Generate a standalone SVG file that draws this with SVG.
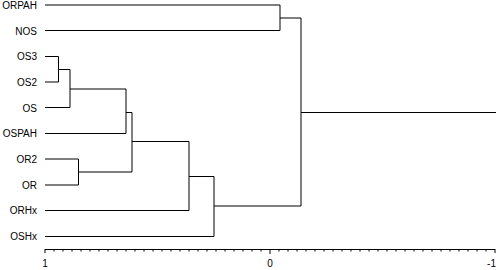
<svg xmlns="http://www.w3.org/2000/svg" width="500" height="270" viewBox="0 0 500 270">
<style>
.lbl{font-family:"Liberation Sans",Arial,sans-serif;font-size:10px;fill:#000;text-anchor:end}
.ax{font-family:"Liberation Sans",Arial,sans-serif;font-size:10px;fill:#000}
.ln{stroke:#000;stroke-width:1;fill:none}
</style>
<rect width="500" height="270" fill="#fff"/>
<g id="leaf-ORPAH"><text class="lbl" x="37" y="8.5">ORPAH</text></g>
<g id="leaf-NOS"><text class="lbl" x="37" y="34.5">NOS</text></g>
<g id="leaf-OS3"><text class="lbl" x="37" y="60">OS3</text></g>
<g id="leaf-OS2"><text class="lbl" x="37" y="85.5">OS2</text></g>
<g id="leaf-OS"><text class="lbl" x="37" y="111.5">OS</text></g>
<g id="leaf-OSPAH"><text class="lbl" x="37" y="137">OSPAH</text></g>
<g id="leaf-OR2"><text class="lbl" x="37" y="162.5">OR2</text></g>
<g id="leaf-OR"><text class="lbl" x="37" y="188.5">OR</text></g>
<g id="leaf-ORHx"><text class="lbl" x="37" y="214">ORHx</text></g>
<g id="leaf-OSHx"><text class="lbl" x="37" y="240">OSHx</text></g>
<g id="connectors" class="ln">
<path class="ln" d="M45,5 H280 M45,30.5 H280 M280,5 V30.5 M280,18 H301"/>
<path class="ln" d="M45,56.5 H58.5 M45,82 H58.5 M58.5,56.5 V82 M58.5,69.5 H70"/>
<path class="ln" d="M45,107.5 H70 M70,69.5 V107.5 M70,89 H126"/>
<path class="ln" d="M45,133.5 H126 M126,89 V133.5 M126,112.5 H132"/>
<path class="ln" d="M45,159 H78.5 M45,185 H78.5 M78.5,159 V185 M78.5,172 H132"/>
<path class="ln" d="M132,112.5 V172 M132,141.5 H189"/>
<path class="ln" d="M45,210.5 H189 M189,141.5 V210.5 M189,176.5 H214"/>
<path class="ln" d="M45,236.5 H214 M214,176.5 V236.5 M214,206 H301"/>
<path class="ln" d="M301,18 V206 M301,112.5 H496"/>
</g>
<g id="axis">
<path class="ln" d="M45,249.5 H495"/>
<path class="ln" d="M45,249 V253 M270,249 V254 M495,249 V253"/>
<path class="ln" d="M54,249 V251.5 M63,249 V251.5 M72,249 V251.5 M81,249 V251.5 M90,249 V251.5 M99,249 V251.5 M108,249 V251.5 M117,249 V251.5 M126,249 V251.5 M135,249 V251.5 M144,249 V251.5 M153,249 V251.5 M162,249 V251.5 M171,249 V251.5 M180,249 V251.5 M189,249 V251.5 M198,249 V251.5 M207,249 V251.5 M216,249 V251.5 M225,249 V251.5 M234,249 V251.5 M243,249 V251.5 M252,249 V251.5 M261,249 V251.5 M279,249 V251.5 M288,249 V251.5 M297,249 V251.5 M306,249 V251.5 M315,249 V251.5 M324,249 V251.5 M333,249 V251.5 M342,249 V251.5 M351,249 V251.5 M360,249 V251.5 M369,249 V251.5 M378,249 V251.5 M387,249 V251.5 M396,249 V251.5 M405,249 V251.5 M414,249 V251.5 M423,249 V251.5 M432,249 V251.5 M441,249 V251.5 M450,249 V251.5 M459,249 V251.5 M468,249 V251.5 M477,249 V251.5 M486,249 V251.5"/>
<text class="ax" x="45" y="267" text-anchor="middle">1</text>
<text class="ax" x="270" y="267" text-anchor="middle">0</text>
<text class="ax" x="496" y="267" text-anchor="end">-1</text>
</g>
</svg>
